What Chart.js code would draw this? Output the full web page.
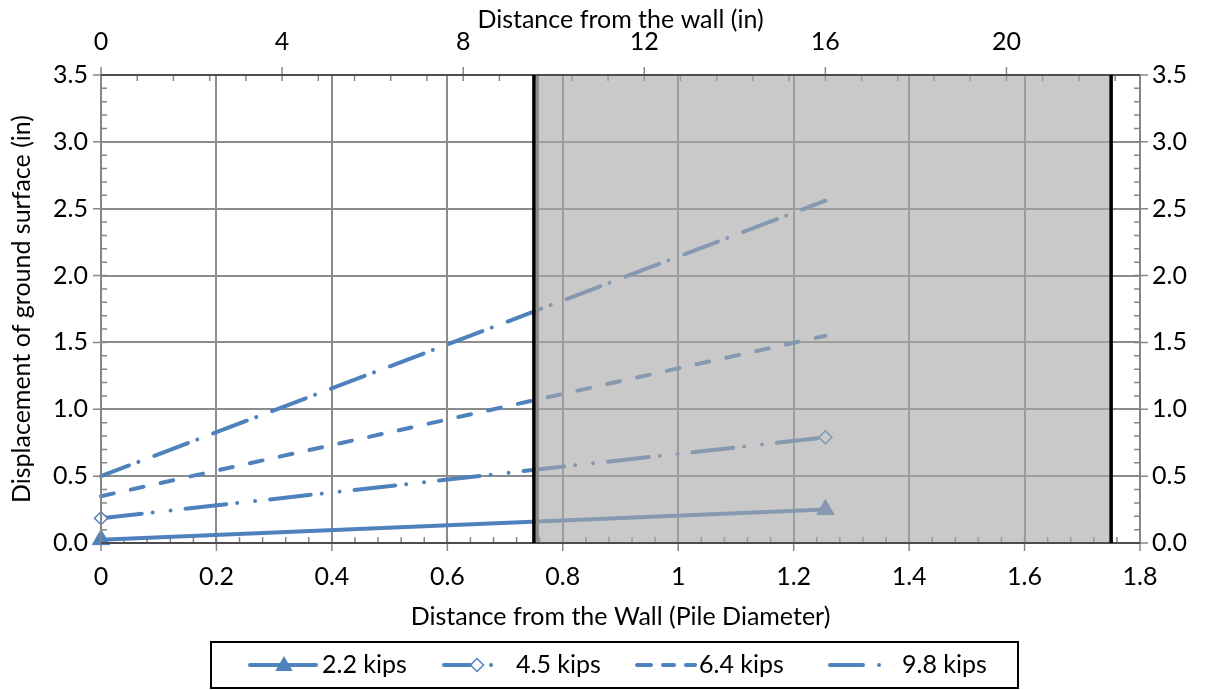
<!DOCTYPE html>
<html>
<head>
<meta charset="utf-8">
<script src="https://cdn.jsdelivr.net/npm/chart.js@4.4.1/dist/chart.umd.min.js"></script>
<style>
  html, body { margin: 0; padding: 0; background: #fff; }
  #wrap { width: 1206px; height: 690px; }
</style>
</head>
<body>
<div id="wrap"><canvas id="chart" width="1206" height="690"></canvas></div>
<script>
// Displacement of ground surface vs distance from the wall

// ================= DATA =================
const seriesNames = ["2.2 kips", "4.5 kips", "6.4 kips", "9.8 kips"];
const distDiam = [0, 1.255];           // distance from the wall (pile diameters)
const disp22 = [0.025, 0.25];
const disp45 = [0.185, 0.79];
const disp64 = [0.35, 1.55];
const disp98 = [0.5, 2.56];

const xTicksDiam = [0, 0.2, 0.4, 0.6, 0.8, 1, 1.2, 1.4, 1.6, 1.8];
const xTicksIn = [0, 4, 8, 12, 16, 20];
const yTicks = [0, 0.5, 1.0, 1.5, 2.0, 2.5, 3.0, 3.5];
const xMaxIn = 22.95;                  // 1.8 pile diameters in inches
const shadedZone = [0.75, 1.75];

// ================= STYLE =================
const BLUE = "#4f81bd";
const FONT = "Lato";
const FSIZE = 25;
Chart.defaults.font.family = FONT;
Chart.defaults.font.size = FSIZE;
Chart.defaults.color = "#000";

const pts = ys => distDiam.map((x, i) => ({ x: x, y: ys[i] }));

const datasets = [
  { label: seriesNames[0], data: pts(disp22), borderDash: [],
    pointStyle: "triangle", pointRadius: 10, pointBackgroundColor: BLUE, pointBorderColor: BLUE, pointBorderWidth: 1 },
  { label: seriesNames[1], data: pts(disp45), borderDash: [41, 11, 0.01, 18, 0.01, 15],
    pointStyle: "rectRot", pointRadius: 6.5, pointBackgroundColor: "#fff", pointBorderColor: BLUE, pointBorderWidth: 1.5 },
  { label: seriesNames[2], data: pts(disp64), borderDash: [13, 17.5], pointRadius: 0 },
  { label: seriesNames[3], data: pts(disp98), borderDash: [36, 10, 0.01, 17], borderDashOffset: 6, pointRadius: 0 }
].map(d => Object.assign({
  borderColor: BLUE, borderWidth: 4, borderCapStyle: "round",
  fill: false, clip: false, tension: 0
}, d));

// ================= PLUGIN: axes, ticks, shaded zone =================
function drawTriangle(ctx, x, y, r) {
  ctx.beginPath();
  ctx.moveTo(x, y - r);
  ctx.lineTo(x + r * 0.866, y + r * 0.5);
  ctx.lineTo(x - r * 0.866, y + r * 0.5);
  ctx.closePath();
  ctx.fill();
}
function drawDiamond(ctx, x, y, r) {
  ctx.beginPath();
  ctx.moveTo(x - r, y);
  ctx.lineTo(x, y - r);
  ctx.lineTo(x + r, y);
  ctx.lineTo(x, y + r);
  ctx.closePath();
  ctx.fill();
  ctx.stroke();
}

const decorPlugin = {
  id: "decor",
  beforeDatasetsDraw(chart) {
    const { ctx, chartArea: a, scales } = chart;
    ctx.save();
    ctx.strokeStyle = "#868686";
    ctx.lineWidth = 1.5;
    ctx.beginPath();
    // minor ticks, 5 per major
    const minor = (scale, from, to, step, fn) => {
      for (let v = from; v <= to + 1e-9; v += step) fn(scale.getPixelForValue(v));
    };
    minor(scales.x, 0, 1.8, 0.04, px => { ctx.moveTo(px, a.bottom); ctx.lineTo(px, a.bottom - 6); });
    minor(scales.xTop, 0, xMaxIn, 0.8, px => { ctx.moveTo(px, a.top); ctx.lineTo(px, a.top + 6); });
    minor(scales.y, 0, 3.5, 0.1, py => {
      ctx.moveTo(a.left, py); ctx.lineTo(a.left + 6, py);
      ctx.moveTo(a.right, py); ctx.lineTo(a.right - 6, py);
    });
    // major ticks crossing the axes
    xTicksDiam.forEach(v => { const px = scales.x.getPixelForValue(v); ctx.moveTo(px, a.bottom + 8); ctx.lineTo(px, a.bottom - 6); });
    xTicksIn.forEach(v => { const px = scales.xTop.getPixelForValue(v); ctx.moveTo(px, a.top - 8); ctx.lineTo(px, a.top + 6); });
    yTicks.forEach(v => {
      const py = scales.y.getPixelForValue(v);
      ctx.moveTo(a.left - 8, py); ctx.lineTo(a.left + 6, py);
      ctx.moveTo(a.right + 8, py); ctx.lineTo(a.right - 6, py);
    });
    ctx.stroke();
    ctx.restore();
  },
  afterDatasetsDraw(chart) {
    const { ctx, chartArea: a, scales } = chart;
    const x0 = scales.x.getPixelForValue(shadedZone[0]);
    const x1 = scales.x.getPixelForValue(shadedZone[1]);
    ctx.save();
    // translucent gray zone over the lines
    ctx.fillStyle = "rgba(168,168,168,0.62)";
    ctx.fillRect(x0, a.top, x1 - x0, a.bottom - a.top);
    ctx.fillStyle = "#8c8c8c";
    ctx.fillRect(x0 + 2, a.top, 3, a.bottom - a.top);
    // side axes
    ctx.strokeStyle = "#868686";
    ctx.lineWidth = 2;
    ctx.beginPath();
    ctx.moveTo(a.left, a.top); ctx.lineTo(a.left, a.bottom);
    ctx.moveTo(a.right, a.top); ctx.lineTo(a.right, a.bottom);
    ctx.stroke();
    // top and bottom axes
    ctx.strokeStyle = "#4d4d4d";
    ctx.beginPath();
    ctx.moveTo(a.left, a.top); ctx.lineTo(a.right, a.top);
    ctx.moveTo(a.left, a.bottom); ctx.lineTo(a.right, a.bottom);
    ctx.stroke();
    // black zone borders
    ctx.strokeStyle = "#000";
    ctx.lineWidth = 3.5;
    ctx.beginPath();
    ctx.moveTo(x0, a.top); ctx.lineTo(x0, a.bottom);
    ctx.moveTo(x1, a.top); ctx.lineTo(x1, a.bottom);
    ctx.stroke();
    ctx.restore();
  },
  afterDraw(chart) {
    // legend, drawn by hand to get the line samples
    const ctx = chart.ctx;
    const cy = 665;
    ctx.save();
    ctx.strokeStyle = "#000";
    ctx.lineWidth = 2;
    ctx.strokeRect(211, 642, 807, 46);

    ctx.strokeStyle = BLUE;
    ctx.fillStyle = BLUE;
    ctx.lineWidth = 4;
    ctx.lineCap = "round";
    const seg = (a, b) => { ctx.beginPath(); ctx.moveTo(a, cy); ctx.lineTo(b, cy); ctx.stroke(); };
    const dot = x => { ctx.beginPath(); ctx.arc(x, cy, 2, 0, Math.PI * 2); ctx.fill(); };

    // 2.2 kips
    seg(250, 316);
    drawTriangle(ctx, 284, cy + 1, 10);
    // 4.5 kips
    seg(444, 470);
    dot(491);
    ctx.fillStyle = "#fff";
    ctx.lineWidth = 1.5;
    drawDiamond(ctx, 477, cy, 6.5);
    ctx.fillStyle = BLUE;
    ctx.lineWidth = 4;
    // 6.4 kips
    seg(637, 651); seg(663, 674); seg(686, 695);
    // 9.8 kips
    seg(830, 863);
    dot(879);

    ctx.fillStyle = "#000";
    ctx.font = FSIZE + "px " + FONT;
    ctx.textBaseline = "middle";
    ctx.textAlign = "left";
    ctx.fillText(seriesNames[0], 322, cy);
    ctx.fillText(seriesNames[1], 516, cy);
    ctx.fillText(seriesNames[2], 699, cy);
    ctx.fillText(seriesNames[3], 902, cy);
    ctx.restore();
  }
};

// ================= CHART =================
const fmt1 = v => (Math.round(v * 10) / 10).toString();

new Chart(document.getElementById("chart"), {
  type: "line",
  data: { datasets: datasets },
  plugins: [decorPlugin],
  options: {
    responsive: false,
    animation: false,
    events: [],
    layout: { padding: { top: 0, left: 0, right: 0, bottom: 50 } },
    plugins: { legend: { display: false }, tooltip: { enabled: false } },
    scales: {
      x: {
        type: "linear", position: "bottom", min: 0, max: 1.8,
        afterBuildTicks: s => { s.ticks = xTicksDiam.map(v => ({ value: v })); },
        afterFit: s => { s.height = 97; },
        ticks: { padding: 19, maxRotation: 0, callback: v => fmt1(v) },
        grid: { color: "#8c8c8c", lineWidth: 2, drawTicks: false },
        border: { display: false },
        title: { display: true, text: "Distance from the Wall (Pile Diameter)", padding: { top: 0, bottom: 8 } }
      },
      xTop: {
        type: "linear", position: "top", min: 0, max: xMaxIn,
        afterBuildTicks: s => { s.ticks = xTicksIn.map(v => ({ value: v })); },
        afterFit: s => { s.height = 75; },
        ticks: { padding: 18, maxRotation: 0 },
        grid: { display: false, drawTicks: false },
        border: { display: false },
        title: { display: true, text: "Distance from the wall (in)", padding: { top: 5, bottom: 0 } }
      },
      y: {
        type: "linear", position: "left", min: 0, max: 3.5,
        afterBuildTicks: s => { s.ticks = yTicks.map(v => ({ value: v })); },
        afterFit: s => { s.width = 101; },
        ticks: { padding: 13, callback: v => v.toFixed(1) },
        grid: { color: "#8c8c8c", lineWidth: 2, drawTicks: false },
        border: { display: false },
        title: { display: true, text: "Displacement of ground surface (in)", padding: { top: 7, bottom: 0 } }
      },
      yRight: {
        type: "linear", position: "right", min: 0, max: 3.5,
        afterBuildTicks: s => { s.ticks = yTicks.map(v => ({ value: v })); },
        afterFit: s => { s.width = 66; },
        ticks: { padding: 12, callback: v => v.toFixed(1) },
        grid: { display: false, drawTicks: false },
        border: { display: false }
      }
    }
  }
});
</script>
</body>
</html>
